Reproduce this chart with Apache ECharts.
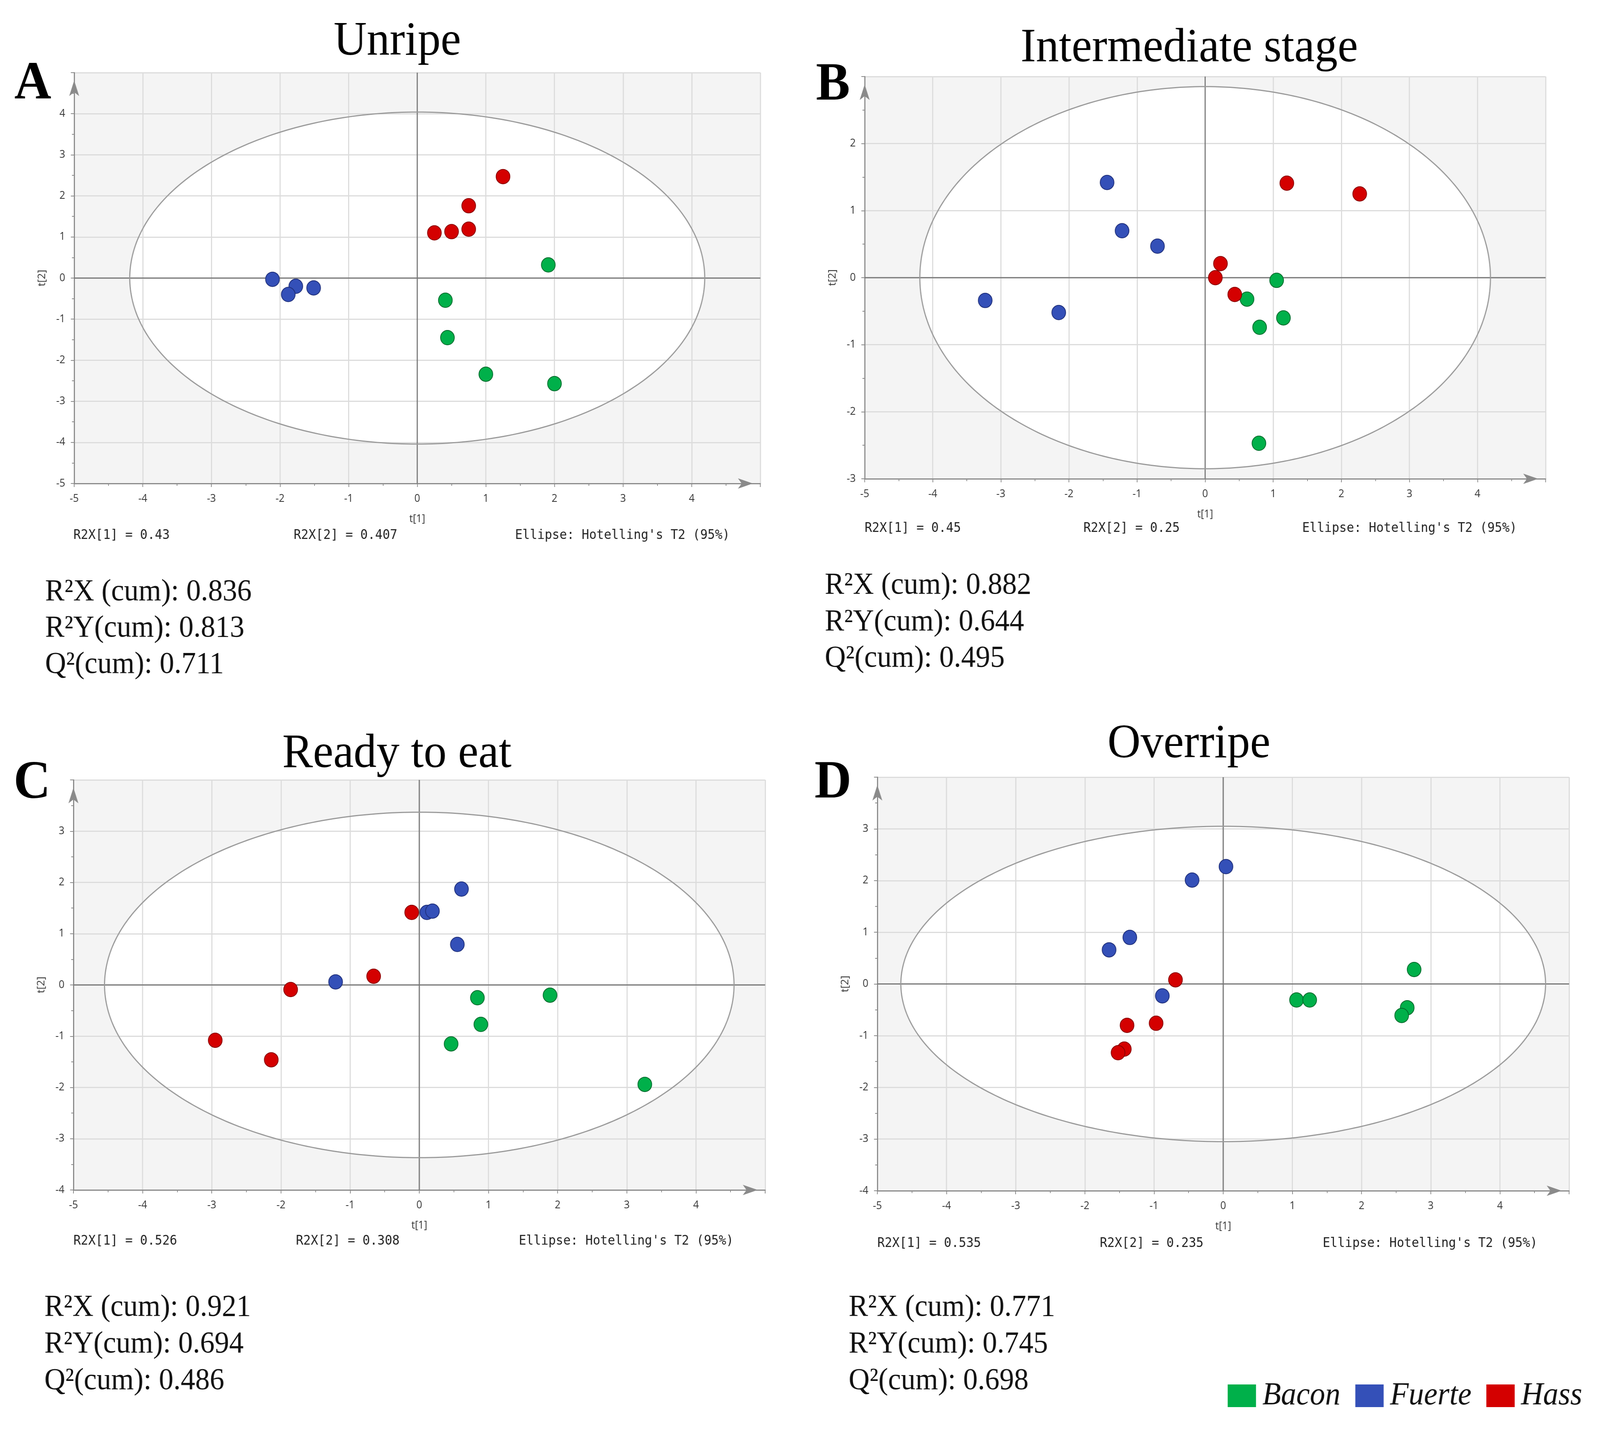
<!DOCTYPE html>
<html><head><meta charset="utf-8">
<script src="https://cdn.jsdelivr.net/npm/echarts@6/dist/echarts.min.js"></script>
<style>html,body{margin:0;padding:0;background:#fff;overflow:hidden}#c{width:4293px;height:3677px;transform-origin:0 0;position:absolute;left:0;top:0}</style>
</head><body><div id="c"></div>
<script>
// ---------- data ----------
const panelTitles = ['Unripe', 'Intermediate stage', 'Ready to eat', 'Overripe'];
const panelLetters = ['A', 'B', 'C', 'D'];
const groupNames = ['Bacon', 'Fuerte', 'Hass'];
const groupColors = ['#00b04a', '#3450b8', '#d40000'];
const groupBorders = ['#006b2c', '#1f2f7a', '#8a0000'];

const unripeBacon  = [[1.91, 0.32], [0.41, -0.54], [0.44, -1.45], [1.00, -2.34], [2.00, -2.57]];
const unripeFuerte = [[-2.11, -0.03], [-1.77, -0.20], [-1.88, -0.40], [-1.51, -0.24]];
const unripeHass   = [[1.25, 2.47], [0.75, 1.76], [0.75, 1.19], [0.50, 1.13], [0.25, 1.10]];

const interBacon  = [[1.05, -0.04], [0.615, -0.32], [1.15, -0.60], [0.80, -0.74], [0.79, -2.47]];
const interFuerte = [[-1.44, 1.42], [-1.22, 0.70], [-0.70, 0.47], [-3.23, -0.34], [-2.15, -0.52]];
const interHass   = [[1.20, 1.41], [2.27, 1.25], [0.225, 0.21], [0.15, 0.0], [0.435, -0.25]];

const readyBacon  = [[0.84, -0.25], [1.89, -0.20], [0.89, -0.77], [0.46, -1.15], [3.26, -1.94]];
const readyFuerte = [[0.11, 1.415], [0.19, 1.44], [0.61, 1.87], [0.55, 0.79], [-1.21, 0.06]];
const readyHass   = [[-0.11, 1.415], [-0.66, 0.17], [-1.86, -0.09], [-2.95, -1.08], [-2.14, -1.46]];

const overBacon  = [[2.76, 0.28], [1.06, -0.31], [1.25, -0.31], [2.66, -0.46], [2.58, -0.61]];
const overFuerte = [[0.04, 2.27], [-0.45, 2.01], [-1.35, 0.90], [-1.65, 0.66], [-0.88, -0.23]];
const overHass   = [[-0.69, 0.08], [-1.39, -0.80], [-0.97, -0.76], [-1.43, -1.26], [-1.52, -1.33]];

// Hotelling's T2 (95%) ellipse semi-axes [t1, t2]
const ellipseA = [4.19, 4.04];
const ellipseB = [4.19, 2.85];
const ellipseC = [4.55, 3.37];
const ellipseD = [4.66, 3.05];

const xRange  = [-5, 5];
const yRangeA = [-5, 5];
const yRangeB = [-3, 3];
const yRangeC = [-4, 4];
const yRangeD = [-4, 4];

const r2x1Labels = ['0.43', '0.45', '0.526', '0.535'];
const r2x2Labels = ['0.407', '0.25', '0.308', '0.235'];
const r2xCum = ['0.836', '0.882', '0.921', '0.771'];
const r2yCum = ['0.813', '0.644', '0.694', '0.745'];
const q2Cum  = ['0.711', '0.495', '0.486', '0.698'];

// ---------- layout ----------
const panelData = [
  [unripeBacon, unripeFuerte, unripeHass],
  [interBacon, interFuerte, interHass],
  [readyBacon, readyFuerte, readyHass],
  [overBacon, overFuerte, overHass]
];
const ellipses = [ellipseA, ellipseB, ellipseC, ellipseD];
const yRanges = [yRangeA, yRangeB, yRangeC, yRangeD];

const grids = [
  {left: 199, top: 186, width: 1841, height: 1052},
  {left: 2320, top: 196, width: 1827, height: 1030},
  {left: 197, top: 1997, width: 1856, height: 1050},
  {left: 2354, top: 1990, width: 1856, height: 1059}
];
const titlePos = [[1066, 108], [3191, 125], [1065, 1932], [3190, 1907]];
const letterPos = [[88, 217], [2235, 220], [86, 2008], [2235, 2007]];
const monoY = [1371, 1353, 3178, 3184];
const monoX = [[197, 788, 1382], [2320, 2907, 3494], [197, 794, 1392], [2354, 2951, 3549]];
const statsX = [121, 2213, 119, 2277];
const statsY = [[1517, 1610, 1703], [1500, 1594, 1687], [3349, 3443, 3537], [3349, 3443, 3537]];

const axisGrey = '#8a8a8a';
const tickFont = {fontSize: 27, color: '#333', fontFamily: 'Open Sans'};

function axisLineCfg() {
  return {show: true, onZero: false, lineStyle: {color: axisGrey, width: 3},
          symbol: ['none', 'arrow'], symbolSize: [20, 40], symbolOffset: [0, -20]};
}

const xAxes = [], yAxes = [], series = [], graphics = [];
for (let i = 0; i < 4; i++) {
  xAxes.push({
    type: 'value', gridIndex: i, min: xRange[0], max: xRange[1], interval: 1, position: 'bottom',
    axisLine: axisLineCfg(),
    axisTick: {show: true, length: 9, lineStyle: {color: axisGrey, width: 2}},
    minorTick: {show: true, splitNumber: 2, length: 6, lineStyle: {color: axisGrey, width: 2}},
    splitLine: {show: true, lineStyle: {color: '#dcdcdc', width: 3}},
    axisLabel: Object.assign({showMaxLabel: false, margin: 26}, tickFont),
    name: 't[1]', nameLocation: 'middle', nameGap: 78, nameTextStyle: tickFont
  });
  yAxes.push({
    type: 'value', gridIndex: i, min: yRanges[i][0], max: yRanges[i][1], interval: 1, position: 'left',
    axisLine: axisLineCfg(),
    axisTick: {show: true, length: 9, lineStyle: {color: axisGrey, width: 2}},
    minorTick: {show: true, splitNumber: 2, length: 6, lineStyle: {color: axisGrey, width: 2}},
    splitLine: {show: true, lineStyle: {color: '#dcdcdc', width: 3}},
    axisLabel: Object.assign({showMaxLabel: false, margin: 24}, tickFont),
    name: 't[2]', nameLocation: 'middle', nameGap: 72, nameRotate: 90, nameTextStyle: tickFont
  });

  series.push({
    type: 'custom', xAxisIndex: i, yAxisIndex: i, z: -1, silent: true, clip: false,
    data: [ellipses[i]],
    renderItem: function (params, api) {
      const cs = params.coordSys;
      const rx = api.value(0), ry = api.value(1);
      const pts = [];
      for (let k = 0; k < 360; k += 1) {
        const t = k * Math.PI / 180;
        pts.push(api.coord([rx * Math.cos(t), ry * Math.sin(t)]));
      }
      return {type: 'group', children: [
        {type: 'rect', shape: {x: cs.x, y: cs.y, width: cs.width, height: cs.height}, style: {fill: '#f4f4f4'}},
        {type: 'polygon', shape: {points: pts}, style: {fill: '#ffffff'}}
      ]};
    }
  });
  series.push({
    type: 'custom', xAxisIndex: i, yAxisIndex: i, z: 1, silent: true, clip: false,
    data: [ellipses[i]],
    renderItem: function (params, api) {
      const cs = params.coordSys;
      const rx = api.value(0), ry = api.value(1);
      const o = api.coord([0, 0]);
      const pts = [];
      for (let k = 0; k < 360; k += 1) {
        const t = k * Math.PI / 180;
        pts.push(api.coord([rx * Math.cos(t), ry * Math.sin(t)]));
      }
      return {type: 'group', children: [
        {type: 'line', shape: {x1: cs.x, y1: o[1], x2: cs.x + cs.width, y2: o[1]}, style: {stroke: '#777', lineWidth: 3}},
        {type: 'line', shape: {x1: o[0], y1: cs.y, x2: o[0], y2: cs.y + cs.height}, style: {stroke: '#777', lineWidth: 3}},
        {type: 'polygon', shape: {points: pts}, style: {fill: 'none', stroke: '#9a9a9a', lineWidth: 3}}
      ]};
    }
  });
  for (let g = 0; g < 3; g++) {
    series.push({
      type: 'scatter', name: groupNames[g], xAxisIndex: i, yAxisIndex: i, z: 3, silent: true,
      data: panelData[i][g], symbol: 'circle', symbolSize: 37,
      itemStyle: {color: groupColors[g], borderColor: groupBorders[g], borderWidth: 2, opacity: 1}
    });
  }

  graphics.push({type: 'text', x: titlePos[i][0], y: titlePos[i][1],
    style: {text: panelTitles[i], fontFamily: 'Liberation Serif', fontSize: 123, fill: '#000', align: 'center', verticalAlign: 'middle'}});
  graphics.push({type: 'text', x: letterPos[i][0], y: letterPos[i][1],
    style: {text: panelLetters[i], fontFamily: 'Liberation Serif', fontWeight: 'bold', fontSize: 137, fill: '#000', align: 'center', verticalAlign: 'middle'}});
  const monoTexts = ['R2X[1] = ' + r2x1Labels[i], 'R2X[2] = ' + r2x2Labels[i], "Ellipse: Hotelling's T2 (95%)"];
  for (let m = 0; m < 3; m++) {
    graphics.push({type: 'text', x: monoX[i][m], y: monoY[i],
      style: {text: monoTexts[m], fontFamily: 'DejaVu Sans Mono', fontSize: 33, fill: '#222', align: 'left', verticalAlign: 'middle'}});
  }
  const statTexts = ['R\u00B2X (cum): ' + r2xCum[i], 'R\u00B2Y(cum): ' + r2yCum[i], 'Q\u00B2(cum): ' + q2Cum[i]];
  for (let s = 0; s < 3; s++) {
    graphics.push({type: 'text', x: statsX[i], y: statsY[i][s],
      style: {text: statTexts[s], fontFamily: 'Liberation Serif', fontSize: 78, fill: '#111', align: 'left', verticalAlign: 'middle'}});
  }
}

// fit the 4293x3677 design to whatever viewport the browser actually provides
const el = document.getElementById('c');
const sx = (window.innerWidth || 4293) / 4293;
const sy = (window.innerHeight || 3677) / 3677;
el.style.transform = 'scale(' + sx + ',' + sy + ')';

const chart = echarts.init(el, null, {renderer: 'canvas'});
chart.setOption({
  backgroundColor: '#ffffff',
  animation: false,
  grid: grids,
  xAxis: xAxes,
  yAxis: yAxes,
  legend: {
    data: groupNames, left: 3294, top: 3533, padding: 0, orient: 'horizontal',
    itemWidth: 76, itemHeight: 58, itemGap: 40, icon: 'rect', selectedMode: false,
    itemStyle: {borderWidth: 0},
    textStyle: {fontFamily: 'Liberation Serif', fontStyle: 'italic', fontSize: 82, color: '#111', padding: [0, 0, 0, 12]}
  },
  series: series,
  graphic: graphics
});
</script>
</body></html>
